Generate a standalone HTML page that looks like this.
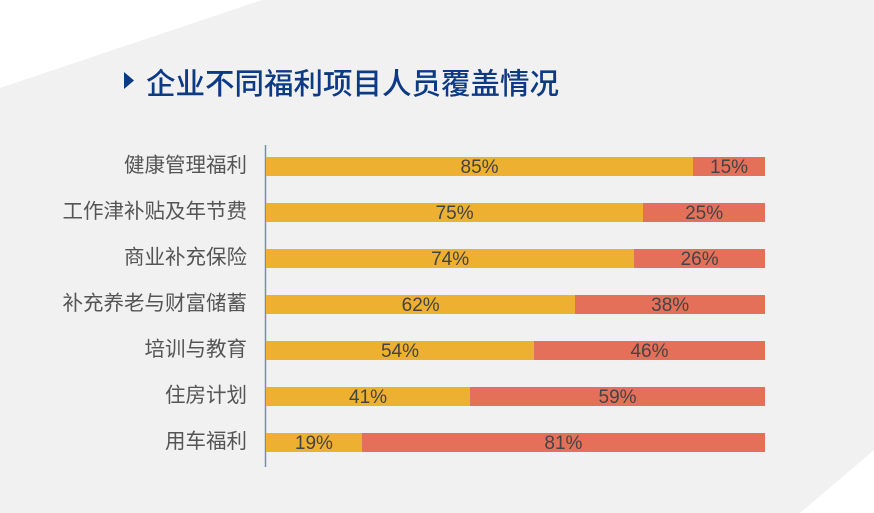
<!DOCTYPE html>
<html><head><meta charset="utf-8"><style>
body{margin:0;width:874px;height:513px;overflow:hidden;background:#f1f1f1;position:relative;font-family:"Liberation Sans","Noto Sans CJK SC",sans-serif}
.abs{position:absolute}
.lab{position:absolute;right:627px;font-size:20.5px;color:#555;line-height:22px;white-space:nowrap}
.bar{position:absolute;left:266px;width:499px;height:19px;display:flex}
.bar div{height:19px;text-align:center;font-size:19px;line-height:21px;color:#444}
.y{background:#edb031}.r{background:#e4705a}
</style></head><body>
<svg class="abs" style="left:0;top:0" width="874" height="513">
<polygon points="0,0 262,0 0,88" fill="#fff"/>
<polygon points="874,450 874,513 800,513" fill="#fff"/>
<polygon points="124,72 134,80.5 124,89" fill="#0d3a85"/>
<line x1="265.5" y1="145" x2="265.5" y2="467" stroke="#7a8fb0" stroke-width="1.5"/>
</svg>
<div class="abs" style="left:146px;top:61px;font-size:29.5px;font-weight:500;color:#0d3a85;white-space:nowrap">企业不同福利项目人员覆盖情况</div>
<div class="lab" style="top:155px">健康管理福利</div>
<div class="lab" style="top:201px">工作津补贴及年节费</div>
<div class="lab" style="top:247px">商业补充保险</div>
<div class="lab" style="top:293px">补充养老与财富储蓄</div>
<div class="lab" style="top:339px">培训与教育</div>
<div class="lab" style="top:385px">住房计划</div>
<div class="lab" style="top:431px">用车福利</div>
<div class="bar" style="top:157px"><div class="y" style="width:85.6%">85%</div><div class="r" style="width:14.4%">15%</div></div>
<div class="bar" style="top:203px"><div class="y" style="width:75.6%">75%</div><div class="r" style="width:24.4%">25%</div></div>
<div class="bar" style="top:249px"><div class="y" style="width:73.8%">74%</div><div class="r" style="width:26.2%">26%</div></div>
<div class="bar" style="top:295px"><div class="y" style="width:62%">62%</div><div class="r" style="width:38%">38%</div></div>
<div class="bar" style="top:341px"><div class="y" style="width:53.7%">54%</div><div class="r" style="width:46.3%">46%</div></div>
<div class="bar" style="top:387px"><div class="y" style="width:40.9%">41%</div><div class="r" style="width:59.1%">59%</div></div>
<div class="bar" style="top:433px"><div class="y" style="width:19.2%">19%</div><div class="r" style="width:80.8%">81%</div></div>
</body></html>
